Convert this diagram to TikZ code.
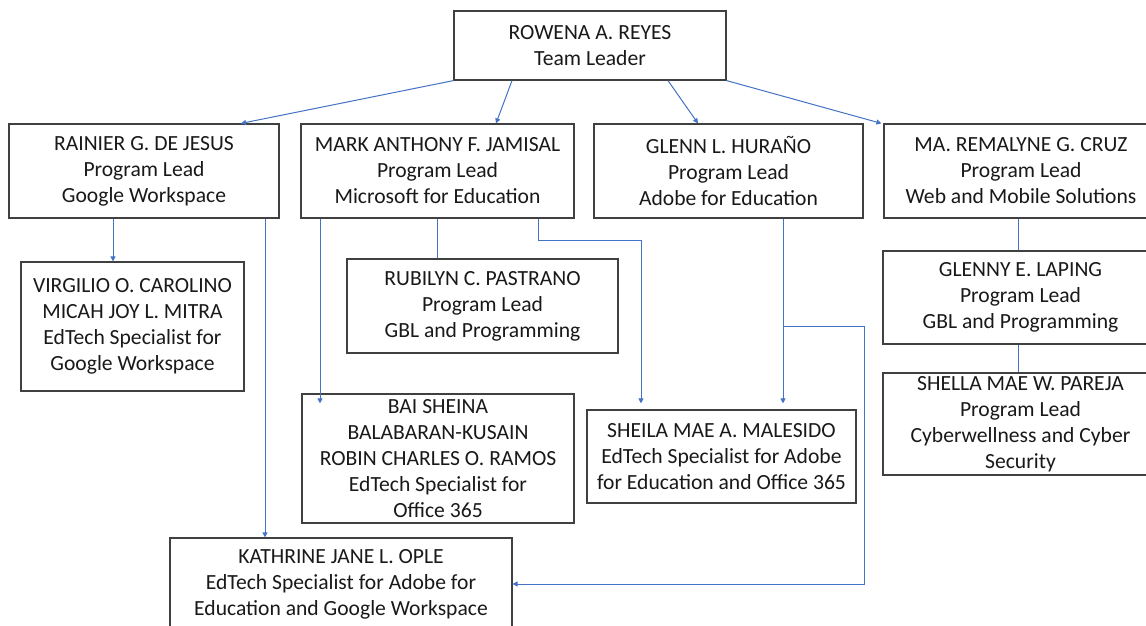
\documentclass[tikz,border=0pt]{standalone}
\usepackage{fontspec}
\setmainfont{Carlito}
\usetikzlibrary{arrows.meta}
\definecolor{conn}{HTML}{4472C4}
\definecolor{boxline}{HTML}{404040}
\begin{document}
\begin{tikzpicture}[x=1pt,y=-1pt,
  pbox/.style={draw=boxline,line width=1.2pt,inner sep=0pt,align=center,
    font=\fontsize{21.6}{26}\selectfont,text=black!90},
  link/.style={draw=conn,line width=1pt},
  arr/.style={link,-{Triangle[width=5pt,length=5pt]}}]
\useasboundingbox (0,0) rectangle (1146,625);
\clip (0,0) rectangle (1146,625);
\fill[white] (0,0) rectangle (1146,625);
% boxes: centre and size from corners
\node[pbox,minimum width=272pt,minimum height=69pt] (rowena) at (590,45.5) {ROWENA A. REYES\\Team Leader};
\node[pbox,minimum width=270pt,minimum height=94pt] (rainier) at (144,171) {RAINIER G. DE JESUS\\Program Lead\\Google Workspace};
\node[pbox,minimum width=273pt,minimum height=94pt] (mark) at (437.5,171) {MARK ANTHONY F. JAMISAL\\Program Lead\\Microsoft for Education};
\node[pbox,minimum width=269pt,minimum height=94pt] (glenn) at (728.5,171) {GLENN L. HURAÑO\\Program Lead\\Adobe for Education};
\node[pbox,minimum width=274pt,minimum height=94pt] (remalyne) at (1021,171) {MA. REMALYNE G. CRUZ\\Program Lead\\Web and Mobile Solutions};
\node[pbox,minimum width=223pt,minimum height=129pt] (virgilio) at (132.5,326.5) {VIRGILIO O. CAROLINO\\MICAH JOY L. MITRA\\EdTech Specialist for\\Google Workspace};
\node[pbox,minimum width=271pt,minimum height=94pt] (rubilyn) at (482.5,306) {RUBILYN C. PASTRANO\\Program Lead\\GBL and Programming};
\node[pbox,minimum width=272pt,minimum height=129pt] (bai) at (438,458.5) {BAI SHEINA\\BALABARAN-KUSAIN\\ROBIN CHARLES O. RAMOS\\EdTech Specialist for\\Office 365};
\node[pbox,minimum width=269pt,minimum height=93pt] (sheila) at (721.5,456.5) {SHEILA MAE A. MALESIDO\\EdTech Specialist for Adobe\\for Education and Office 365};
\node[pbox,minimum width=275pt,minimum height=93pt] (glenny) at (1020.5,297.5) {GLENNY E. LAPING\\Program Lead\\GBL and Programming};
\node[pbox,minimum width=275pt,minimum height=102pt] (shella) at (1020.5,424) {SHELLA MAE W. PAREJA\\Program Lead\\Cyberwellness and Cyber\\Security};
\node[pbox,minimum width=342pt,minimum height=92pt] (kathrine) at (341,584) {KATHRINE JANE L. OPLE\\EdTech Specialist for Adobe for\\Education and Google Workspace};
% connectors from the team leader
\draw[arr] (rowena.south west) -- ([xshift=97pt]rainier.north);
\draw[arr] ([xshift=-78pt]rowena.south) -- ([xshift=58.5pt]mark.north);
\draw[arr] ([xshift=78pt]rowena.south) -- ([xshift=-30.5pt]glenn.north);
\draw[arr] (rowena.south east) -- ([xshift=-2pt]remalyne.north west);
% Rainier
\draw[arr] ([xshift=-31pt]rainier.south) -- ([xshift=-19.5pt]virgilio.north);
\draw[arr] ([xshift=121pt]rainier.south) -- ([xshift=-76pt]kathrine.north);
% Mark
\coordinate (baiin) at ([xshift=-118pt,yshift=-10pt]bai.north);
\draw[arr] ([xshift=-117.5pt]mark.south) -- (baiin);
\draw[link] (mark.south) -- (mark.south |- rubilyn.north);
\draw[arr] ([xshift=100.5pt]mark.south) -- ++(0,22) -| ([xshift=-80.5pt,yshift=6pt]sheila.north);
% Glenn
\draw[arr] ([xshift=54.5pt]glenn.south) -- ([xshift=61.5pt,yshift=6pt]sheila.north);
\coordinate (gj) at ([xshift=54.5pt,yshift=-108pt]glenn.south);
\draw[arr] (gj) -- ++(81,0) |- (kathrine.east);
% Remalyne
\draw[link] ([xshift=-3pt]remalyne.south) -- ([xshift=-2.5pt]glenny.north);
\draw[link] ([xshift=-2.5pt]glenny.south) -- ([xshift=-2.5pt]shella.north);
\end{tikzpicture}
\end{document}
